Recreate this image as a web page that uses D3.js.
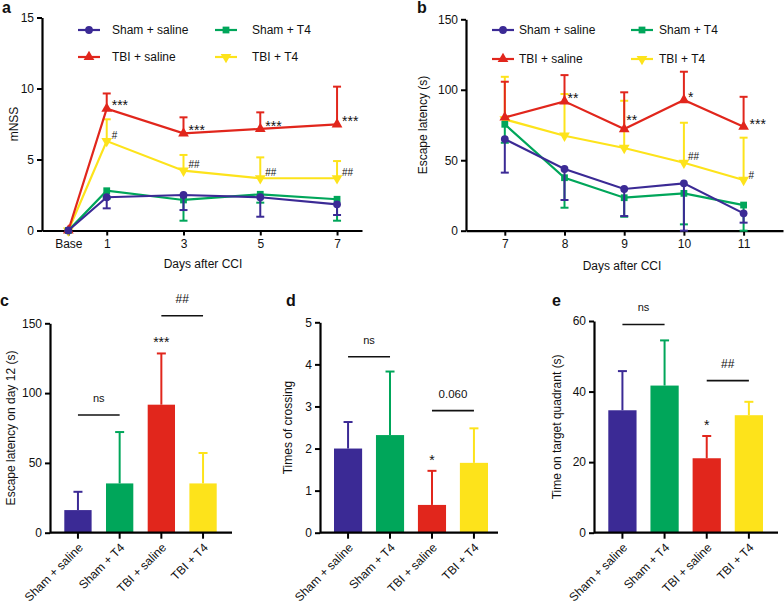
<!DOCTYPE html>
<html>
<head>
<meta charset="utf-8">
<script src="https://cdn.jsdelivr.net/npm/d3@7"></script>
<style>
  html, body { margin: 0; padding: 0; background: #fff; }
  svg { display: block; font-family: "Liberation Sans", Arial, Helvetica, sans-serif; }
  text { fill: #111; }
</style>
</head>
<body>
<svg id="chart" width="784" height="606"></svg>
<script>
// ---------------- DATA ----------------
const groups = ["Sham + saline", "Sham + T4", "TBI + saline", "TBI + T4"];
const groupColors = ["#3b2a95", "#00a65a", "#e1261c", "#fde31b"];

// Panel a: mNSS
const mnssDays = [0, 1, 3, 5, 7];
const mnssTickLabels = ["Base", "1", "3", "5", "7"];
const mnssYTicks = [0, 5, 10, 15];
const mnssShamSaline = [0, 2.34, 2.50, 2.34, 1.84];
const mnssShamSalineErr = [0, 0.78, 1.06, 1.37, 0.75];
const mnssShamT4 = [0, 2.80, 2.15, 2.55, 2.20];
const mnssShamT4Err = [0, 0.55, 1.46, 0.59, 1.51];
const mnssTbiSaline = [0, 8.58, 6.84, 7.15, 7.48];
const mnssTbiSalineErr = [0, 1.07, 1.13, 1.17, 2.65];
const mnssTbiT4 = [0, 6.30, 4.21, 3.68, 3.68];
const mnssTbiT4Err = [0, 1.53, 1.11, 1.47, 1.21];
const mnssTbiSalineSig = ["", "***", "***", "***", "***"];
const mnssTbiT4Sig = ["", "#", "##", "##", "##"];

// Panel b: escape latency
const latDays = [7, 8, 9, 10, 11];
const latYTicks = [0, 50, 100, 150];
const latShamSaline = [65.0, 43.8, 29.6, 33.6, 12.3];
const latShamSalineErr = [23.8, 22.0, 19.2, 33.6, 6.6];
const latShamT4 = [75.5, 37.6, 23.4, 26.5, 18.2];
const latShamT4Err = [13.1, 21.3, 13.5, 22.0, 18.2];
const latTbiSaline = [80.4, 91.8, 72.1, 92.7, 73.8];
const latTbiSalineErr = [25.3, 18.6, 26.1, 20.1, 21.2];
const latTbiT4 = [79.0, 67.4, 58.7, 48.2, 36.0];
const latTbiT4Err = [30.2, 29.6, 33.5, 28.4, 30.0];
const latTbiSalineSig = ["", "**", "**", "*", "***"];
const latTbiT4Sig = ["", "", "", "##", "#"];

// Panel c: escape latency on day 12
const day12Means = [16.2, 35.3, 91.7, 35.3];
const day12Err = [13.1, 36.8, 36.7, 21.8];
const day12YTicks = [0, 50, 100, 150];
const day12Brackets = [{ from: 0, to: 1, y: 84.3, label: "ns" }, { from: 2, to: 3, y: 155.4, label: "##" }];
const day12Stars = ["", "", "***", ""];

// Panel d: times of crossing
const crossMeans = [2.00, 2.32, 0.66, 1.66];
const crossErr = [0.63, 1.51, 0.81, 0.82];
const crossYTicks = [0, 1, 2, 3, 4, 5];
const crossBrackets = [{ from: 0, to: 1, y: 4.18, label: "ns" }, { from: 2, to: 3, y: 2.90, label: "0.060" }];
const crossStars = ["", "", "*", ""];

// Panel e: time on target quadrant
const quadMeans = [34.7, 41.7, 21.1, 33.3];
const quadErr = [11.1, 12.8, 6.3, 3.8];
const quadYTicks = [0, 20, 40, 60];
const quadBrackets = [{ from: 0, to: 1, y: 59.0, label: "ns" }, { from: 2, to: 3, y: 43.1, label: "##" }];
const quadStars = ["", "", "*", ""];

// ---------------- DRAWING ----------------
const svg = d3.select("#chart");
const FONT = 12;
const symbols = [
  d3.symbol().type(d3.symbolCircle).size(48),
  d3.symbol().type(d3.symbolSquare).size(46),
  d3.symbol().type(d3.symbolTriangle).size(50),
  d3.symbol().type(d3.symbolTriangle).size(50)
];
const symbolRotate = [0, 0, 0, 180];

function styleAxis(g) {
  g.selectAll("path.domain").attr("stroke", "#000").attr("stroke-width", 2.2);
  g.selectAll(".tick line").attr("stroke", "#000").attr("stroke-width", 2);
  g.selectAll(".tick text").attr("font-size", FONT).attr("fill", "#111")
    .attr("font-family", '"Liberation Sans", Arial, sans-serif');
}

function panelLabel(txt, x, y) {
  svg.append("text").attr("x", x).attr("y", y).attr("font-size", 16)
    .attr("font-weight", "bold").text(txt);
}

function sigText(g, txt, x, yc, starSize, hashSize) {
  if (!txt) return;
  const isStar = txt.indexOf("*") >= 0;
  const fs = isStar ? starSize : hashSize;
  const base = isStar ? yc + fs * 0.55 : yc + fs * 0.36;
  g.append("text").attr("x", x).attr("y", base).attr("font-size", fs).text(txt);
}

function linePanel(cfg) {
  const g = svg.append("g");
  const x = d3.scaleLinear().domain(cfg.xDomain).range(cfg.xRange);
  const y = d3.scaleLinear().domain(cfg.yDomain).range(cfg.yRange);

  // axes
  const ax = g.append("g").attr("transform", `translate(0,${cfg.yRange[0]})`)
    .call(d3.axisBottom(x).tickValues(cfg.xTicks).tickSize(5).tickSizeOuter(0).tickPadding(4)
      .tickFormat((d, i) => cfg.xTickLabels[i]));
  styleAxis(ax);
  const ay = g.append("g").attr("transform", `translate(${cfg.xRange[0]},0)`)
    .call(d3.axisLeft(y).tickValues(cfg.yTicks).tickSize(5).tickSizeOuter(0).tickPadding(3)
      .tickFormat(d => String(d)));
  styleAxis(ay);

  g.append("text").attr("x", cfg.xTitlePos[0]).attr("y", cfg.xTitlePos[1])
    .attr("text-anchor", "middle").attr("font-size", FONT).text(cfg.xTitle);
  g.append("text").attr("transform", `translate(${cfg.yTitleX},${(cfg.yRange[0] + cfg.yRange[1]) / 2}) rotate(-90)`)
    .attr("text-anchor", "middle").attr("dy", "0.35em").attr("font-size", FONT).text(cfg.yTitle);

  const line = d3.line().x(d => x(d[0])).y(d => y(d[1]));
  cfg.drawOrder.forEach(si => {
    const s = cfg.series[si];
    const col = groupColors[si];
    const pts = cfg.xTicks.map((d, i) => [d, s.vals[i], s.errs[i]]);
    // error bars
    pts.forEach(p => {
      if (!p[2]) return;
      const yEnd = s.dir > 0 ? p[1] + p[2] : p[1] - p[2];
      g.append("line").attr("x1", x(p[0])).attr("x2", x(p[0]))
        .attr("y1", y(p[1])).attr("y2", y(yEnd)).attr("stroke", col).attr("stroke-width", 2);
      g.append("line").attr("x1", x(p[0]) - 4).attr("x2", x(p[0]) + 4)
        .attr("y1", y(yEnd)).attr("y2", y(yEnd)).attr("stroke", col).attr("stroke-width", 2);
    });
    g.append("path").datum(pts).attr("d", line).attr("fill", "none")
      .attr("stroke", col).attr("stroke-width", 2.2);
    pts.forEach(p => {
      g.append("path").attr("d", symbols[si]())
        .attr("transform", `translate(${x(p[0])},${y(p[1])}) rotate(${symbolRotate[si]})`)
        .attr("fill", col);
    });
  });

  // significance labels
  cfg.sigs.forEach(sg => {
    const s = cfg.series[sg.series];
    sg.labels.forEach((t, i) => {
      const dx = sg.dx ? sg.dx[i] : 5;
      const dy = sg.dy ? sg.dy[i] : -6;
      sigText(g, t, x(cfg.xTicks[i]) + dx, y(s.vals[i]) + dy, 14, 10);
    });
  });

  // legend
  cfg.legend.forEach((lg, k) => {
    const col = groupColors[lg.series];
    g.append("line").attr("x1", lg.x).attr("x2", lg.x + 22).attr("y1", lg.y).attr("y2", lg.y)
      .attr("stroke", col).attr("stroke-width", 2.2);
    g.append("path").attr("d", symbols[lg.series]())
      .attr("transform", `translate(${lg.x + 11},${lg.y}) rotate(${symbolRotate[lg.series]})`)
      .attr("fill", col);
    g.append("text").attr("x", lg.x + lg.textOff).attr("y", lg.y).attr("dy", "0.35em")
      .attr("font-size", FONT).text(groups[lg.series]);
  });
}

function barPanel(cfg) {
  const g = svg.append("g");
  const x = d3.scaleBand().domain(groups).range(cfg.barRange).paddingInner(cfg.padInner).paddingOuter(0);
  const y = d3.scaleLinear().domain(cfg.yDomain).range(cfg.yRange);

  // bars + error bars
  groups.forEach((gname, i) => {
    const col = groupColors[i];
    const cx = x(gname) + x.bandwidth() / 2;
    const top = cfg.means[i] + cfg.errs[i];
    g.append("line").attr("x1", cx).attr("x2", cx).attr("y1", y(cfg.means[i])).attr("y2", y(top))
      .attr("stroke", col).attr("stroke-width", 2);
    g.append("line").attr("x1", cx - 4.5).attr("x2", cx + 4.5).attr("y1", y(top)).attr("y2", y(top))
      .attr("stroke", col).attr("stroke-width", 2);
    g.append("rect").attr("x", x(gname)).attr("width", x.bandwidth())
      .attr("y", y(cfg.means[i])).attr("height", y(0) - y(cfg.means[i])).attr("fill", col);
    if (cfg.stars[i]) {
      sigText(g, cfg.stars[i], cx, y(top) - 14, 14, 12);
    }
  });
  g.selectAll("text").attr("text-anchor", "middle");

  // axes
  const ax = g.append("g").attr("transform", `translate(0,${cfg.yRange[0]})`)
    .call(d3.axisBottom(x).tickSize(6).tickSizeOuter(0));
  styleAxis(ax);
  ax.select("path.domain").remove();
  ax.append("line").attr("x1", cfg.axisX[0]).attr("x2", cfg.axisX[1]).attr("y1", 0).attr("y2", 0)
    .attr("stroke", "#000").attr("stroke-width", 2.2);
  ax.selectAll(".tick text").attr("transform", "rotate(-45)").attr("text-anchor", "end")
    .attr("x", -7).attr("y", 15).attr("dy", 0);

  const ay = g.append("g").attr("transform", `translate(${cfg.axisX[0]},0)`)
    .call(d3.axisLeft(y).tickValues(cfg.yTicks).tickSize(5).tickSizeOuter(0).tickPadding(3)
      .tickFormat(d => String(d)));
  styleAxis(ay);

  g.append("text").attr("transform", `translate(${cfg.yTitleX},${(cfg.yRange[0] + cfg.yRange[1]) / 2}) rotate(-90)`)
    .attr("text-anchor", "middle").attr("dy", "0.35em").attr("font-size", FONT).text(cfg.yTitle);

  // brackets
  cfg.brackets.forEach(b => {
    const x1 = x(groups[b.from]) + x.bandwidth() / 2;
    const x2 = x(groups[b.to]) + x.bandwidth() / 2;
    g.append("line").attr("x1", x1).attr("x2", x2).attr("y1", y(b.y)).attr("y2", y(b.y))
      .attr("stroke", "#111").attr("stroke-width", 1.6);
    const fs = b.label === "ns" ? 11 : (b.label === "##" ? 12 : 11.5);
    g.append("text").attr("x", (x1 + x2) / 2).attr("y", y(b.y) - 17).attr("dy", "0.35em")
      .attr("text-anchor", "middle").attr("font-size", fs).text(b.label);
  });
}

// Panel a
panelLabel("a", 2, 13);
linePanel({
  xDomain: [-0.686, 7.65], xRange: [42, 362],
  yDomain: [0, 15], yRange: [230.5, 17.5],
  xTicks: mnssDays, xTickLabels: mnssTickLabels, yTicks: mnssYTicks,
  xTitle: "Days after CCI", xTitlePos: [203, 268],
  yTitle: "mNSS", yTitleX: 14,
  series: [
    { vals: mnssShamSaline, errs: mnssShamSalineErr, dir: -1 },
    { vals: mnssShamT4, errs: mnssShamT4Err, dir: -1 },
    { vals: mnssTbiSaline, errs: mnssTbiSalineErr, dir: 1 },
    { vals: mnssTbiT4, errs: mnssTbiT4Err, dir: 1 }
  ],
  drawOrder: [3, 2, 1, 0],
  sigs: [
    { series: 2, labels: mnssTbiSalineSig },
    { series: 3, labels: mnssTbiT4Sig }
  ],
  legend: [
    { series: 0, x: 78, y: 30, textOff: 34 },
    { series: 1, x: 215, y: 30, textOff: 37 },
    { series: 2, x: 78, y: 57, textOff: 34 },
    { series: 3, x: 215, y: 57, textOff: 37 }
  ]
});

// Panel b
panelLabel("b", 417, 13);
linePanel({
  xDomain: [6.35, 11.66], xRange: [466, 783],
  yDomain: [0, 150], yRange: [230.7, 19.3],
  xTicks: latDays, xTickLabels: latDays.map(String), yTicks: latYTicks,
  xTitle: "Days after CCI", xTitlePos: [622, 270],
  yTitle: "Escape latency (s)", yTitleX: 423,
  series: [
    { vals: latShamSaline, errs: latShamSalineErr, dir: -1 },
    { vals: latShamT4, errs: latShamT4Err, dir: -1 },
    { vals: latTbiSaline, errs: latTbiSalineErr, dir: 1 },
    { vals: latTbiT4, errs: latTbiT4Err, dir: 1 }
  ],
  drawOrder: [3, 2, 1, 0],
  sigs: [
    { series: 2, labels: latTbiSalineSig, dx: [5, 3, 2, 4, 6], dy: [-6, -6, -12, -6, -5] },
    { series: 3, labels: latTbiT4Sig, dx: [5, 5, 5, 4, 5], dy: [-6, -6, -6, -6, -5] }
  ],
  legend: [
    { series: 0, x: 492, y: 30, textOff: 27 },
    { series: 1, x: 631, y: 30, textOff: 28 },
    { series: 2, x: 492, y: 59, textOff: 27 },
    { series: 3, x: 631, y: 59, textOff: 28 }
  ]
});

// Panel c
panelLabel("c", 0, 306);
barPanel({
  means: day12Means, errs: day12Err, yDomain: [0, 150], yRange: [532.7, 323.3],
  yTicks: day12YTicks, barRange: [64.3, 216.7], padInner: 0.345, axisX: [50, 232],
  yTitle: "Escape latency on day 12 (s)", yTitleX: 11,
  brackets: day12Brackets, stars: day12Stars
});

// Panel d
panelLabel("d", 286, 306);
barPanel({
  means: crossMeans, errs: crossErr, yDomain: [0, 5], yRange: [532.7, 322.3],
  yTicks: crossYTicks, barRange: [334, 488], padInner: 0.33, axisX: [320, 498],
  yTitle: "Times of crossing", yTitleX: 288,
  brackets: crossBrackets, stars: crossStars
});

// Panel e
panelLabel("e", 552, 306);
barPanel({
  means: quadMeans, errs: quadErr, yDomain: [0, 60], yRange: [532.7, 321],
  yTicks: quadYTicks, barRange: [608.3, 763], padInner: 0.33, axisX: [594, 778],
  yTitle: "Time on target quadrant (s)", yTitleX: 557,
  brackets: quadBrackets, stars: quadStars
});
</script>
</body>
</html>
